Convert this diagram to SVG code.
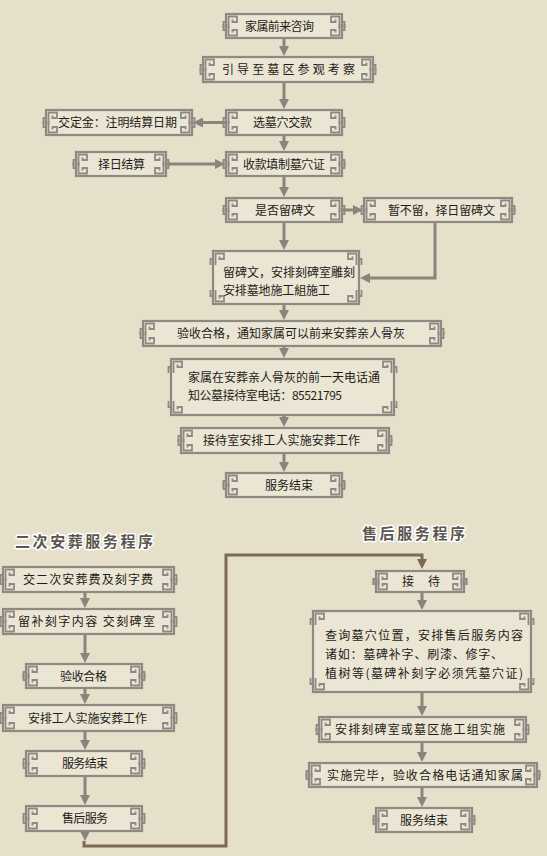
<svg xmlns="http://www.w3.org/2000/svg" xmlns:xlink="http://www.w3.org/1999/xlink" width="547" height="856" viewBox="0 0 547 856">
<style>
.bg{fill:#e6dfca}
.b{fill:#ebe5d3;stroke:#8e8983;stroke-width:2.2}
.k{fill:none;stroke:#8e8983;stroke-width:1.8}
.t{font-family:"Noto Sans CJK SC","Liberation Sans",sans-serif;font-size:12px;fill:#1e1c1a}
.h{font-family:"Noto Sans CJK SC","Liberation Sans",sans-serif;font-size:15px;font-weight:bold;fill:#5b5650;stroke:#ffffff;stroke-width:3;paint-order:stroke;stroke-linejoin:round}
.c{fill:none;stroke:#8a847d;stroke-width:3}
.cb{fill:none;stroke:#7b6a56;stroke-width:3}
</style>
<defs>
<path id="k" class="k" d="M3.5,15 V3.5 H12 V9 H7.5 V6.5 M1,9 H-1.5 V15"/>
<marker id="a" viewBox="0 0 10 10" refX="2" refY="5" markerWidth="10" markerHeight="10" markerUnits="userSpaceOnUse" orient="auto"><path d="M0,0 L10,5 L0,10 Z" fill="#8a847d"/></marker>
<marker id="ab" viewBox="0 0 10 10" refX="2" refY="5" markerWidth="10" markerHeight="10" markerUnits="userSpaceOnUse" orient="auto"><path d="M0,0 L10,5 L0,10 Z" fill="#7b6a56"/></marker>
</defs>
<rect class="bg" x="0" y="0" width="547" height="856"/>

<g id="connectors">
<path class="c" marker-end="url(#a)" d="M284,39 V48"/>
<path class="c" marker-end="url(#a)" d="M284,83 V101"/>
<path class="c" marker-end="url(#a)" d="M225,122.5 H201"/>
<path class="c" marker-end="url(#a)" d="M284,136 V143"/>
<path class="c" marker-end="url(#a)" d="M167,164 H217"/>
<path class="c" marker-end="url(#a)" d="M284,177 V189"/>
<path class="c" marker-end="url(#a)" d="M343,210 H355"/>
<path class="c" marker-end="url(#a)" d="M284,223 V242"/>
<path class="c" marker-end="url(#a)" d="M435,223 V278 H368"/>
<path class="c" marker-end="url(#a)" d="M284,305 V312"/>
<path class="c" marker-end="url(#a)" d="M284,347 V350"/>
<path class="c" marker-end="url(#a)" d="M284,416 V419"/>
<path class="c" marker-end="url(#a)" d="M284,454 V464"/>
<path class="c" marker-end="url(#a)" d="M85,593 V600"/>
<path class="c" marker-end="url(#a)" d="M85,635 V655"/>
<path class="c" marker-end="url(#a)" d="M85,689 V696"/>
<path class="c" marker-end="url(#a)" d="M85,732 V742"/>
<path class="c" marker-end="url(#a)" d="M85,777 V797"/>
<path class="c" marker-end="url(#a)" d="M85,832 V833"/>
<path class="cb" d="M84,841 V846 H226 V555 H422 V561" marker-end="url(#ab)"/>
<path class="c" marker-end="url(#a)" d="M422,593 V602"/>
<path class="c" marker-end="url(#a)" d="M422,693 V708"/>
<path class="c" marker-end="url(#a)" d="M422,743 V754"/>
<path class="c" marker-end="url(#a)" d="M422,788 V799"/>
</g>

<g id="b1" transform="translate(225,13)"><rect class="b" x="1" y="1" width="116" height="24"/><use xlink:href="#k"/><use xlink:href="#k" transform="matrix(-1 0 0 1 118 0)"/><use xlink:href="#k" transform="matrix(1 0 0 -1 0 26)"/><use xlink:href="#k" transform="matrix(-1 0 0 -1 118 26)"/><text class="t" x="20" y="17.5" textLength="69">家属前来咨询</text></g>
<g id="b2" transform="translate(202,56)"><rect class="b" x="1" y="1" width="170" height="25"/><use xlink:href="#k"/><use xlink:href="#k" transform="matrix(-1 0 0 1 172 0)"/><use xlink:href="#k" transform="matrix(1 0 0 -1 0 27)"/><use xlink:href="#k" transform="matrix(-1 0 0 -1 172 27)"/><text class="t" x="20" y="18" textLength="133">引导至墓区参观考察</text></g>
<g id="b3" transform="translate(225,109)"><rect class="b" x="1" y="1" width="116" height="25"/><use xlink:href="#k"/><use xlink:href="#k" transform="matrix(-1 0 0 1 118 0)"/><use xlink:href="#k" transform="matrix(1 0 0 -1 0 27)"/><use xlink:href="#k" transform="matrix(-1 0 0 -1 118 27)"/><text class="t" x="28" y="18" textLength="59">选墓穴交款</text></g>
<g id="b4" transform="translate(45,109)"><rect class="b" x="1" y="1" width="146" height="25"/><use xlink:href="#k"/><use xlink:href="#k" transform="matrix(-1 0 0 1 148 0)"/><use xlink:href="#k" transform="matrix(1 0 0 -1 0 27)"/><use xlink:href="#k" transform="matrix(-1 0 0 -1 148 27)"/><text class="t" x="13" y="18" textLength="119">交定金：注明结算日期</text></g>
<g id="b5" transform="translate(75,151)"><rect class="b" x="1" y="1" width="90" height="24"/><use xlink:href="#k"/><use xlink:href="#k" transform="matrix(-1 0 0 1 92 0)"/><use xlink:href="#k" transform="matrix(1 0 0 -1 0 26)"/><use xlink:href="#k" transform="matrix(-1 0 0 -1 92 26)"/><text class="t" x="23" y="17.5" textLength="47">择日结算</text></g>
<g id="b6" transform="translate(225,151)"><rect class="b" x="1" y="1" width="116" height="24"/><use xlink:href="#k"/><use xlink:href="#k" transform="matrix(-1 0 0 1 118 0)"/><use xlink:href="#k" transform="matrix(1 0 0 -1 0 26)"/><use xlink:href="#k" transform="matrix(-1 0 0 -1 118 26)"/><text class="t" x="18" y="17.5" textLength="82">收款填制墓穴证</text></g>
<g id="b7" transform="translate(225,197)"><rect class="b" x="1" y="1" width="116" height="24"/><use xlink:href="#k"/><use xlink:href="#k" transform="matrix(-1 0 0 1 118 0)"/><use xlink:href="#k" transform="matrix(1 0 0 -1 0 26)"/><use xlink:href="#k" transform="matrix(-1 0 0 -1 118 26)"/><text class="t" x="30" y="17.5" textLength="60">是否留碑文</text></g>
<g id="b8" transform="translate(363,197)"><rect class="b" x="1" y="1" width="148" height="24"/><use xlink:href="#k"/><use xlink:href="#k" transform="matrix(-1 0 0 1 150 0)"/><use xlink:href="#k" transform="matrix(1 0 0 -1 0 26)"/><use xlink:href="#k" transform="matrix(-1 0 0 -1 150 26)"/><text class="t" x="25" y="17.5" textLength="107">暂不留，择日留碑文</text></g>
<g id="b9" transform="translate(212,250)"><rect class="b" x="1" y="1" width="146" height="53"/><use xlink:href="#k"/><use xlink:href="#k" transform="matrix(-1 0 0 1 148 0)"/><use xlink:href="#k" transform="matrix(1 0 0 -1 0 55)"/><use xlink:href="#k" transform="matrix(-1 0 0 -1 148 55)"/><text class="t" x="11" y="26.5" textLength="132">留碑文，安排刻碑室雕刻</text><text class="t" x="11" y="44.5" textLength="107">安排墓地施工組施工</text></g>
<g id="b10" transform="translate(142,320)"><rect class="b" x="1" y="1" width="298" height="25"/><use xlink:href="#k"/><use xlink:href="#k" transform="matrix(-1 0 0 1 300 0)"/><use xlink:href="#k" transform="matrix(1 0 0 -1 0 27)"/><use xlink:href="#k" transform="matrix(-1 0 0 -1 300 27)"/><text class="t" x="35" y="18" textLength="228">验收合格，通知家属可以前来安葬亲人骨灰</text></g>
<g id="b11" transform="translate(170,358)"><rect class="b" x="1" y="1" width="223" height="56"/><use xlink:href="#k"/><use xlink:href="#k" transform="matrix(-1 0 0 1 225 0)"/><use xlink:href="#k" transform="matrix(1 0 0 -1 0 58)"/><use xlink:href="#k" transform="matrix(-1 0 0 -1 225 58)"/><text class="t" x="18" y="23.5" textLength="192">家属在安葬亲人骨灰的前一天电话通</text><text class="t" x="18" y="41.5" textLength="154">知公墓接待室电话：85521795</text></g>
<g id="b12" transform="translate(180,427)"><rect class="b" x="1" y="1" width="208" height="25"/><use xlink:href="#k"/><use xlink:href="#k" transform="matrix(-1 0 0 1 210 0)"/><use xlink:href="#k" transform="matrix(1 0 0 -1 0 27)"/><use xlink:href="#k" transform="matrix(-1 0 0 -1 210 27)"/><text class="t" x="23" y="18" textLength="157">接待室安排工人实施安葬工作</text></g>
<g id="b13" transform="translate(225,472)"><rect class="b" x="1" y="1" width="116" height="24"/><use xlink:href="#k"/><use xlink:href="#k" transform="matrix(-1 0 0 1 118 0)"/><use xlink:href="#k" transform="matrix(1 0 0 -1 0 26)"/><use xlink:href="#k" transform="matrix(-1 0 0 -1 118 26)"/><text class="t" x="40" y="17.5" textLength="48">服务结束</text></g>

<text id="h1" class="h" x="15" y="546.5" textLength="138">二次安葬服务程序</text>
<text id="h2" class="h" x="362" y="538.5" textLength="103">售后服务程序</text>

<g id="l1" transform="translate(2,566)"><rect class="b" x="1" y="1" width="171" height="25"/><use xlink:href="#k"/><use xlink:href="#k" transform="matrix(-1 0 0 1 173 0)"/><use xlink:href="#k" transform="matrix(1 0 0 -1 0 27)"/><use xlink:href="#k" transform="matrix(-1 0 0 -1 173 27)"/><text class="t" x="21" y="18" textLength="130">交二次安葬费及刻字费</text></g>
<g id="l2" transform="translate(2,608)"><rect class="b" x="1" y="1" width="171" height="25"/><use xlink:href="#k"/><use xlink:href="#k" transform="matrix(-1 0 0 1 173 0)"/><use xlink:href="#k" transform="matrix(1 0 0 -1 0 27)"/><use xlink:href="#k" transform="matrix(-1 0 0 -1 173 27)"/><text class="t" x="16" y="18" textLength="137">留补刻字内容 交刻碑室</text></g>
<g id="l3" transform="translate(25,663)"><rect class="b" x="1" y="1" width="116" height="24"/><use xlink:href="#k"/><use xlink:href="#k" transform="matrix(-1 0 0 1 118 0)"/><use xlink:href="#k" transform="matrix(1 0 0 -1 0 26)"/><use xlink:href="#k" transform="matrix(-1 0 0 -1 118 26)"/><text class="t" x="35" y="17.5" textLength="47">验收合格</text></g>
<g id="l4" transform="translate(2,704)"><rect class="b" x="1" y="1" width="171" height="26"/><use xlink:href="#k"/><use xlink:href="#k" transform="matrix(-1 0 0 1 173 0)"/><use xlink:href="#k" transform="matrix(1 0 0 -1 0 28)"/><use xlink:href="#k" transform="matrix(-1 0 0 -1 173 28)"/><text class="t" x="26" y="18.5" textLength="119">安排工人实施安葬工作</text></g>
<g id="l5" transform="translate(25,750)"><rect class="b" x="1" y="1" width="116" height="25"/><use xlink:href="#k"/><use xlink:href="#k" transform="matrix(-1 0 0 1 118 0)"/><use xlink:href="#k" transform="matrix(1 0 0 -1 0 27)"/><use xlink:href="#k" transform="matrix(-1 0 0 -1 118 27)"/><text class="t" x="37" y="18" textLength="46">服务结束</text></g>
<g id="l6" transform="translate(25,805)"><rect class="b" x="1" y="1" width="116" height="25"/><use xlink:href="#k"/><use xlink:href="#k" transform="matrix(-1 0 0 1 118 0)"/><use xlink:href="#k" transform="matrix(1 0 0 -1 0 27)"/><use xlink:href="#k" transform="matrix(-1 0 0 -1 118 27)"/><text class="t" x="37" y="18" textLength="46">售后服务</text></g>

<g id="r1" transform="translate(375,570)"><rect class="b" x="1" y="1" width="88" height="21"/><use xlink:href="#k"/><use xlink:href="#k" transform="matrix(-1 0 0 1 90 0)"/><use xlink:href="#k" transform="matrix(1 0 0 -1 0 23)"/><use xlink:href="#k" transform="matrix(-1 0 0 -1 90 23)"/><text class="t" x="27" y="16" textLength="38">接　待</text></g>
<g id="r2" transform="translate(312,610)"><rect class="b" x="1" y="1" width="218" height="81"/><use xlink:href="#k"/><use xlink:href="#k" transform="matrix(-1 0 0 1 220 0)"/><use xlink:href="#k" transform="matrix(1 0 0 -1 0 83)"/><use xlink:href="#k" transform="matrix(-1 0 0 -1 220 83)"/><text class="t" x="13" y="29.5" textLength="198">查询墓穴位置，安排售后服务内容</text><text class="t" x="13" y="48.5" textLength="178">诸如：墓碑补字、刷漆、修字、</text><text class="t" x="13" y="67.5" textLength="198">植树等(墓碑补刻字必须凭墓穴证)</text></g>
<g id="r3" transform="translate(318,716)"><rect class="b" x="1" y="1" width="207" height="25"/><use xlink:href="#k"/><use xlink:href="#k" transform="matrix(-1 0 0 1 209 0)"/><use xlink:href="#k" transform="matrix(1 0 0 -1 0 27)"/><use xlink:href="#k" transform="matrix(-1 0 0 -1 209 27)"/><text class="t" x="17" y="18" textLength="170">安排刻碑室或墓区施工组实施</text></g>
<g id="r4" transform="translate(308,762)"><rect class="b" x="1" y="1" width="228" height="24"/><use xlink:href="#k"/><use xlink:href="#k" transform="matrix(-1 0 0 1 230 0)"/><use xlink:href="#k" transform="matrix(1 0 0 -1 0 26)"/><use xlink:href="#k" transform="matrix(-1 0 0 -1 230 26)"/><text class="t" x="19" y="17.5" textLength="196">实施完毕，验收合格电话通知家属</text></g>
<g id="r5" transform="translate(375,807)"><rect class="b" x="1" y="1" width="96" height="24"/><use xlink:href="#k"/><use xlink:href="#k" transform="matrix(-1 0 0 1 98 0)"/><use xlink:href="#k" transform="matrix(1 0 0 -1 0 26)"/><use xlink:href="#k" transform="matrix(-1 0 0 -1 98 26)"/><text class="t" x="25" y="17.5" textLength="48">服务结束</text></g>
</svg>
